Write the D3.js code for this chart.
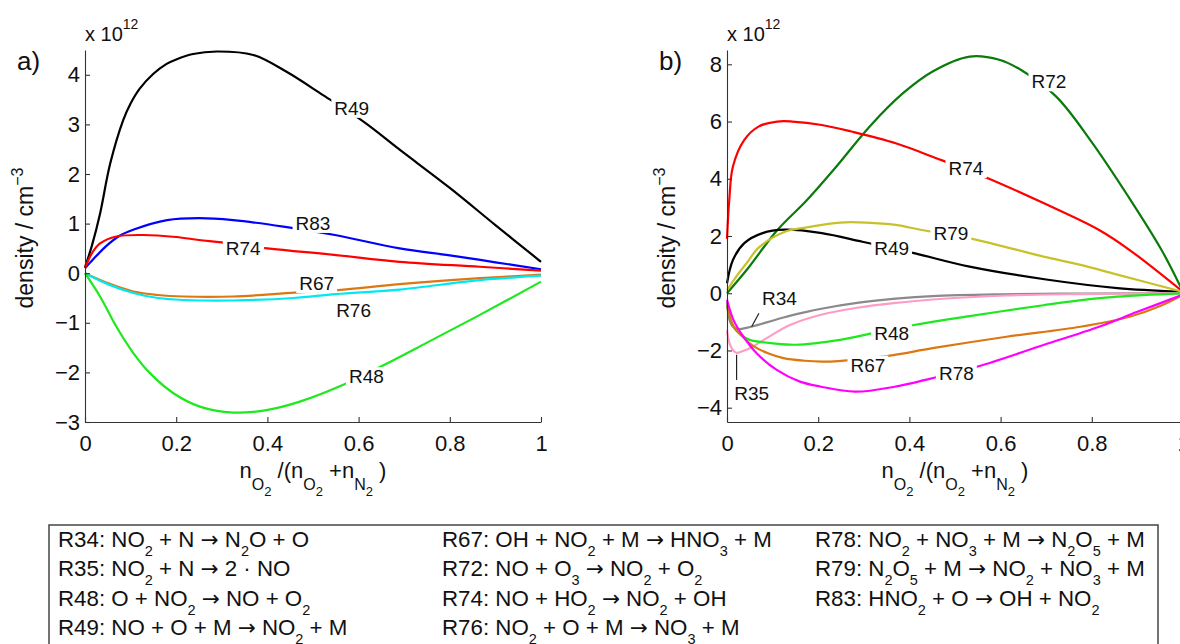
<!DOCTYPE html>
<html><head><meta charset="utf-8">
<script src="https://cdn.jsdelivr.net/npm/d3@7"></script>
<style>
body{margin:0;background:#fff;}
svg text{font-family:"Liberation Sans",Arial,Helvetica,sans-serif;fill:#111;}
</style></head><body>
<svg id="c" width="1180" height="644"></svg>
<script>
// ---------------- data ----------------
const xTicks = [0, 0.2, 0.4, 0.6, 0.8, 1];
const yTicksA = [-3, -2, -1, 0, 1, 2, 3, 4];
const yTicksB = [-4, -2, 0, 2, 4, 6, 8];
const yDomainA = [-3, 4.5];
const yDomainB = [-4.5, 8.5];

// panel a) series: [x, density / 1e12]
const A_R49 = [[0,0.12],[0.015,0.55],[0.033,1.2],[0.055,2.2],[0.084,3.09],[0.1,3.42],[0.12,3.72],[0.15,4.02],[0.179,4.22],[0.2,4.31],[0.237,4.42],[0.289,4.47],[0.369,4.40],[0.442,4.06],[0.522,3.59],[0.61,3.06],[0.69,2.49],[0.8,1.72],[0.9,0.97],[1,0.23]];
const A_R83 = [[0,0.1],[0.02,0.3],[0.047,0.55],[0.075,0.75],[0.107,0.88],[0.18,1.07],[0.25,1.11],[0.325,1.07],[0.435,0.94],[0.548,0.77],[0.69,0.5],[0.8,0.36],[0.9,0.22],[1,0.08]];
const A_R74 = [[0,0.1],[0.015,0.4],[0.033,0.6],[0.069,0.74],[0.128,0.77],[0.2,0.73],[0.25,0.67],[0.3,0.62],[0.4,0.5],[0.546,0.37],[0.69,0.23],[0.866,0.13],[1,0.05]];
const A_R67 = [[0,0],[0.05,-0.2],[0.106,-0.37],[0.16,-0.44],[0.216,-0.47],[0.325,-0.47],[0.46,-0.39],[0.555,-0.34],[0.69,-0.22],[0.866,-0.1],[1,-0.03]];
const A_R76 = [[0,0],[0.05,-0.22],[0.106,-0.4],[0.16,-0.5],[0.216,-0.54],[0.325,-0.55],[0.457,-0.5],[0.55,-0.42],[0.69,-0.33],[0.866,-0.14],[1,-0.05]];
const A_R48 = [[0,0],[0.033,-0.47],[0.069,-1.08],[0.106,-1.61],[0.143,-2.02],[0.194,-2.42],[0.252,-2.69],[0.325,-2.81],[0.398,-2.76],[0.471,-2.59],[0.574,-2.22],[0.658,-1.84],[0.75,-1.4],[0.866,-0.84],[1,-0.17]];

// panel b) series
const B_R72 = [[0,0],[0.043,0.81],[0.11,2.2],[0.175,3.25],[0.24,4.43],[0.313,5.83],[0.386,6.99],[0.451,7.75],[0.532,8.27],[0.597,8.16],[0.645,7.8],[0.722,6.87],[0.799,5.3],[0.88,3.38],[0.953,1.51],[1,0.05]];
const B_R74 = [[0,1.9],[0.005,3.26],[0.013,4.43],[0.038,5.36],[0.07,5.83],[0.11,6.0],[0.143,6.0],[0.208,5.88],[0.273,5.65],[0.37,5.24],[0.459,4.72],[0.572,4.02],[0.694,3.15],[0.816,2.21],[0.883,1.51],[1,0.05]];
const B_R49 = [[0,0.35],[0.013,1.16],[0.038,1.75],[0.078,2.1],[0.127,2.22],[0.208,2.1],[0.297,1.8],[0.41,1.4],[0.532,0.93],[0.7,0.48],[0.856,0.18],[1,0.05]];
const B_R79 = [[0,0.1],[0.021,0.6],[0.043,1.05],[0.07,1.6],[0.127,2.15],[0.175,2.3],[0.248,2.47],[0.305,2.47],[0.37,2.39],[0.427,2.21],[0.54,1.89],[0.694,1.28],[0.773,1.0],[0.856,0.65],[1,0.05]];
const B_R34 = [[0,-0.3],[0.005,-0.9],[0.012,-1.15],[0.025,-1.25],[0.045,-1.2],[0.087,-1.02],[0.124,-0.85],[0.167,-0.68],[0.204,-0.55],[0.289,-0.33],[0.37,-0.19],[0.451,-0.1],[0.6,-0.04],[0.8,-0.01],[1,0]];
const B_R35 = [[0,-1.3],[0.008,-1.85],[0.021,-2.08],[0.035,-2.02],[0.05,-1.92],[0.087,-1.57],[0.138,-1.11],[0.204,-0.76],[0.289,-0.5],[0.37,-0.34],[0.451,-0.22],[0.613,-0.08],[0.773,-0.03],[1,0]];
const B_R48 = [[0,-0.41],[0.014,-1.17],[0.03,-1.45],[0.05,-1.63],[0.101,-1.75],[0.151,-1.8],[0.248,-1.63],[0.289,-1.5],[0.41,-1.11],[0.532,-0.8],[0.694,-0.42],[0.773,-0.25],[0.856,-0.12],[1,0]];
const B_R67 = [[0,-0.4],[0.014,-1.15],[0.036,-1.55],[0.058,-1.85],[0.09,-2.1],[0.124,-2.27],[0.17,-2.36],[0.208,-2.39],[0.244,-2.37],[0.354,-2.19],[0.451,-1.92],[0.613,-1.52],[0.775,-1.17],[0.883,-0.82],[0.95,-0.45],[1,-0.05]];
const B_R78 = [[0,-0.23],[0.014,-0.93],[0.036,-1.52],[0.065,-2.1],[0.109,-2.68],[0.16,-3.09],[0.204,-3.26],[0.281,-3.44],[0.37,-3.26],[0.435,-3.03],[0.548,-2.57],[0.694,-1.81],[0.816,-1.17],[0.9,-0.65],[1,-0.05]];

// inline label anchors (data coords)
const labelsA = [["R49",0.585,3.33],["R83",0.5,1.01],["R74",0.347,0.5],["R67",0.508,-0.2],["R76",0.589,-0.74],["R48",0.617,-2.08]];
const labelsB = [["R72",0.706,7.4],["R74",0.524,4.37],["R79",0.491,2.1],["R49",0.361,1.57],["R34",0.115,-0.17],["R48",0.361,-1.4],["R67",0.309,-2.5],["R78",0.503,-2.8],["R35",0.054,-3.5]];
const leadersB = [[0.07,-0.7,0.054,-1.17],[0.021,-2.15,0.021,-3.03]];

const legendCol1 = ["R34: NO_2 + N → N_2O + O","R35: NO_2 + N → 2 · NO","R48: O + NO_2 → NO + O_2","R49: NO + O + M → NO_2 + M"];
const legendCol2 = ["R67: OH + NO_2 + M → HNO_3 + M","R72: NO + O_3 → NO_2 + O_2","R74: NO + HO_2 → NO_2 + OH","R76: NO_2 + O + M → NO_3 + M"];
const legendCol3 = ["R78: NO_2 + NO_3 + M → N_2O_5 + M","R79: N_2O_5 + M → NO_2 + NO_3 + M","R83: HNO_2 + O → OH + NO_2"];

const colors = {R49:"#000000",R83:"#0000ff",R74:"#ff0000",R67:"#dd7711",R76:"#00e8f0",R48:"#1ee81e",
  R72:"#0a7a0a",R79:"#c8c22a",R34:"#8a8a8a",R35:"#ff9cc6",R78:"#ff00ff"};

// ---------------- drawing ----------------
const svg = d3.select("#c");
const defs = svg.append("defs");

function panel(cfg){
  const x = d3.scaleLinear().domain([0,1]).range([cfg.x0, cfg.x0+456]);
  const y = d3.scaleLinear().domain(cfg.yDomain).range([422, 50]);
  const g = svg.append("g");

  const lab = g.append("g");
  const boxes = {};
  cfg.labels.forEach(([name,lx,ly])=>{
    const t = lab.append("text").attr("x",x(lx)).attr("y",y(ly)).attr("dy","0.36em")
      .attr("text-anchor","middle").attr("font-size",19).text(name);
    boxes[name] = t.node().getBBox();
  });

  const line = d3.line().x(d=>x(d[0])).y(d=>y(d[1])).curve(d3.curveCatmullRom.alpha(0.5));
  cfg.series.forEach(s=>{
    const b = boxes[s.name];
    const id = "m"+cfg.id+s.name;
    const m = defs.append("mask").attr("id",id).attr("maskUnits","userSpaceOnUse")
      .attr("x",0).attr("y",0).attr("width",1180).attr("height",644);
    m.append("rect").attr("x",0).attr("y",0).attr("width",1180).attr("height",644).attr("fill","#fff");
    if(b) m.append("rect").attr("x",b.x-3).attr("y",b.y+1).attr("width",b.width+6).attr("height",b.height-2).attr("fill","#000");
    g.insert("path",":first-child").datum(s.data).attr("d",line).attr("fill","none")
      .attr("stroke",colors[s.name]).attr("stroke-width",2.2).attr("mask",`url(#${id})`);
  });

  (cfg.leaders||[]).forEach(([a,b,c,d])=>{
    g.append("line").attr("x1",x(a)).attr("y1",y(b)).attr("x2",x(c)).attr("y2",y(d))
      .attr("stroke","#222").attr("stroke-width",1.2);
  });

  const fmt = v => String(v).replace("-","\u2212");
  const ax = g.append("g").attr("transform","translate(0,422)")
    .call(d3.axisBottom(x).tickValues(xTicks).tickFormat(fmt).tickSize(-5).tickSizeOuter(0).tickPadding(13));
  const ay = g.append("g").attr("transform",`translate(${cfg.x0},0)`)
    .call(d3.axisLeft(y).tickValues(cfg.yTicks).tickFormat(fmt).tickSize(-5).tickSizeOuter(0).tickPadding(5));
  [ax,ay].forEach(a=>{
    a.attr("font-size",22).attr("font-family",null);
    a.selectAll("path,line").attr("stroke","#333").attr("stroke-width",1.1);
    a.selectAll("text").attr("fill","#111");
  });

  g.append("text").attr("x",cfg.x0-68).attr("y",70).attr("font-size",26).text(cfg.letter);
  const ex = g.append("text").attr("x",cfg.x0).attr("y",41).attr("font-size",20);
  ex.append("tspan").text("x 10");
  ex.append("tspan").attr("dy",-12).attr("font-size",14).text("12");

  const yl = g.append("text").attr("transform",`translate(${cfg.x0-52},238) rotate(-90)`)
    .attr("text-anchor","middle").attr("font-size",23);
  yl.append("tspan").text("density / cm");
  yl.append("tspan").attr("dy",-10).attr("font-size",16).text("\u22123");

  const xl = g.append("text").attr("x",cfg.x0+228).attr("y",478).attr("text-anchor","middle").attr("font-size",22);
  const parts = [["n",0,22],["O",12,16],["2",6,13],[" /(n",-18,22],["O",12,16],["2",6,13],[" +n",-18,22],["N",12,16],["2",6,13],[" )",-18,22]];
  parts.forEach(([t,dy,fs])=>xl.append("tspan").attr("dy",dy).attr("font-size",fs).text(t));
}

panel({id:"a",x0:85,yDomain:yDomainA,yTicks:yTicksA,letter:"a)",labels:labelsA,
  series:[{name:"R48",data:A_R48},{name:"R76",data:A_R76},{name:"R67",data:A_R67},{name:"R74",data:A_R74},{name:"R83",data:A_R83},{name:"R49",data:A_R49}]});
panel({id:"b",x0:727,yDomain:yDomainB,yTicks:yTicksB,letter:"b)",labels:labelsB,leaders:leadersB,
  series:[{name:"R78",data:B_R78},{name:"R67",data:B_R67},{name:"R48",data:B_R48},{name:"R35",data:B_R35},{name:"R34",data:B_R34},{name:"R79",data:B_R79},{name:"R49",data:B_R49},{name:"R74",data:B_R74},{name:"R72",data:B_R72}]});

// legend
svg.append("rect").attr("x",49).attr("y",525).attr("width",1109).attr("height",140)
  .attr("fill","none").attr("stroke","#444").attr("stroke-width",1.5);
function legendText(str,x,yb){
  const t = svg.append("text").attr("x",x).attr("y",yb).attr("font-size",22.3);
  let i=0, buf="", lowered=false;
  const flushBuf=()=>{
    if(!buf) return;
    buf.split(/(→)/).forEach(seg=>{
      if(!seg) return;
      const s=t.append("tspan").text(seg);
      if(seg==="→") s.attr("font-family","DejaVu Sans").attr("font-size",21.5);
      if(lowered){ s.attr("dy",-9); lowered=false; }
    });
    buf="";
  };
  while(i<str.length){
    if(str[i]==="_"){ flushBuf(); t.append("tspan").attr("dy",lowered?0:9).attr("font-size",14.5).text(str[i+1]); lowered=true; i+=2; }
    else { buf+=str[i]; i++; }
  }
  flushBuf();
}
const rowY = [547, 576, 606, 635];
legendCol1.forEach((s,i)=>legendText(s,58,rowY[i]));
legendCol2.forEach((s,i)=>legendText(s,442,rowY[i]));
legendCol3.forEach((s,i)=>legendText(s,815,rowY[i]));
</script>
</body></html>
